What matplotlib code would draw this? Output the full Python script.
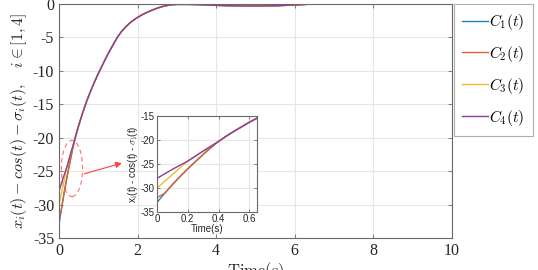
import matplotlib
matplotlib.use("Agg")
import matplotlib.pyplot as plt
from matplotlib.patches import Ellipse

# ---------------- STYLE ----------------
plt.rcParams['mathtext.fontset'] = 'cm'
plt.rcParams['axes.unicode_minus'] = False
plt.rcParams['font.family'] = 'Liberation Serif'

# ---------------- DATA ----------------
# shared tail after all four curves have merged (t >= 0.4)
t_tail = [0.4, 0.45, 0.5, 0.6, 0.7, 0.8, 0.9, 1.0, 1.1, 1.2, 1.3, 1.4, 1.5,
          1.6, 1.7, 1.8, 1.9, 2.0, 2.1, 2.2, 2.3, 2.4, 2.5, 2.6, 2.7, 2.8,
          2.9, 3.0, 3.3, 3.6, 4.0, 4.5, 5.0, 5.5, 6.0, 6.3, 6.6, 7.0, 8.0,
          9.0, 10.0]
y_tail = [-20.3, -19.2, -18.2, -16.3, -14.6, -13.1, -11.7, -10.4, -9.2, -8.0,
          -6.9, -5.85, -4.85, -4.05, -3.4, -2.85, -2.4, -2.0, -1.66, -1.36, -1.09,
          -0.85, -0.62, -0.43, -0.28, -0.17, -0.1, -0.06, -0.06, -0.1, -0.2,
          -0.28, -0.3, -0.26, -0.15, -0.05, 0.0, 0.0, 0.0, 0.0, 0.0]

# initial transients
t_c1 = [0.0, 0.05, 0.1, 0.15, 0.2, 0.25, 0.3, 0.35]
y_c1 = [-33.0, -31.1, -29.3, -27.6, -26.0, -24.5, -23.0, -21.6]
t_c2 = [0.0]
y_c2 = [-32.0]
t_c3 = [0.0, 0.1, 0.2, 0.3]
y_c3 = [-30.0, -27.2, -24.4, -22.3]
t_c4 = [0.0, 0.1]
y_c4 = [-28.0, -26.1]

labels = [r'$C_1(t)$', r'$C_2(t)$', r'$C_3(t)$', r'$C_4(t)$']
colors = ['#1f82c8', '#e0622a', '#efbb30', '#8a3c9c']

# build full series
series = [
    (t_c1 + t_tail, y_c1 + y_tail),
    (t_c2 + t_c1[1:] + t_tail, y_c2 + y_c1[1:] + y_tail),
    (t_c3 + t_tail, y_c3 + y_tail),
    (t_c4 + t_c3[2:] + t_tail, y_c4 + y_c3[2:] + y_tail),
]

frame_col = '#6a6a6a'
text_col = '#262626'
grid_col = '#e6e6e6'

def style_axes(ax, size):
    for s in ax.spines.values():
        s.set_color(frame_col)
        s.set_linewidth(0.8)
    ax.tick_params(direction='in', colors=frame_col, labelcolor=text_col,
                   labelsize=size, top=True, right=True, length=3, width=0.6)
    ax.grid(True, color=grid_col, linewidth=0.8)
    ax.set_axisbelow(True)

# ---------------- MAIN PLOT ----------------
fig = plt.figure(figsize=(5.38, 2.70), dpi=100)
ax = fig.add_axes([59/538, 1 - 238/270, (452 - 59)/538, (238 - 4)/270])

lines = []
for (t, y), c, lab in zip(series, colors, labels):
    ln, = ax.plot(t, y, color=c, lw=1.0, label=lab)
    lines.append(ln)

ax.set_xlim(0, 10)
ax.set_ylim(-35, 0)
ax.set_xticks([0, 2, 4, 6, 8, 10])
ax.set_yticks([0, -5, -10, -15, -20, -25, -30, -35])
style_axes(ax, 11.5)
ax.set_ylabel(r'$x_i(t) - cos(t) - \sigma_i(t), \quad i \in [1,4]$',
              fontsize=11.5, color=text_col, labelpad=3)
ax.set_xlabel(r'$\mathrm{Time(s)}$', fontsize=12, color=text_col, labelpad=1)

# highlight ellipse + arrow
ax.add_patch(Ellipse((0.33, -24.6), 0.54, 8.4, fill=False, ls=(0, (4, 3)),
                     ec='#ff7070', lw=0.8))
ax.annotate('', xy=(1.6, -23.8), xytext=(0.64, -25.4),
            arrowprops=dict(arrowstyle='-|>', color='#ff4040', lw=0.8,
                            mutation_scale=9, shrinkA=0, shrinkB=0))

# legend outside on the right
leg = fig.legend(handles=lines, loc='upper left',
                 bbox_to_anchor=(453.5/538, 1 - 3.5/270),
                 fontsize=11, frameon=True, fancybox=False, edgecolor='#9a9a9a',
                 handlelength=1.7, handletextpad=0.1, labelspacing=0.78,
                 borderpad=0.55, borderaxespad=0)
leg.get_frame().set_linewidth(0.8)

# ---------------- INSET ----------------
ins = fig.add_axes([157/538, 1 - 212/270, 100/538, 96/270])
for (t, y), c in zip(series, colors):
    ins.plot(t, y, color=c, lw=1.0)
ins.set_xlim(0, 0.65)
ins.set_ylim(-35, -15)
ins.set_xticks([0, 0.2, 0.4, 0.6])
ins.set_xticklabels(['0', '0.2', '0.4', '0.6'])
ins.set_yticks([-35, -30, -25, -20, -15])
style_axes(ins, 7)
for lb in ins.get_xticklabels() + ins.get_yticklabels():
    lb.set_family('Liberation Sans')
ins.tick_params(length=2, pad=1.5)
ins.set_xlabel('Time(s)', fontsize=7, family='Liberation Sans', color=text_col, labelpad=0)
ins.set_ylabel(r'x$_\mathrm{i}$(t) - cos(t) - $\sigma_\mathrm{i}$(t)', fontsize=7,
               family='Liberation Sans', color=text_col, labelpad=1)

fig.savefig('out.png', dpi=100)
